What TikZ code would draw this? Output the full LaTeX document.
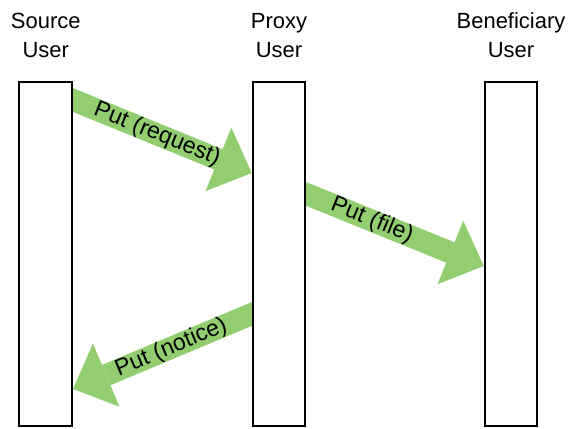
\documentclass[tikz,border=0pt]{standalone}
\usepackage{fontspec}
\setmainfont{Liberation Sans}
\usetikzlibrary{positioning}
\usetikzlibrary{arrows.meta, backgrounds}
\definecolor{putgreen}{RGB}{146,206,112}
\tikzset{
  user/.style={draw=black,fill=white,line width=0.04cm,minimum width=1.05cm,minimum height=6.88cm,inner sep=0},
  who/.style={font=\fontsize{12.5}{16.7}\selectfont,align=center,inner sep=0},
  putarrow/.style={draw=putgreen,line width=0.44cm,-{Triangle[length=0.72cm,width=1.37cm,line width=0pt]},shorten <=-0.2cm},
  putlabel/.style={font=\fontsize{13.2}{15}\selectfont,text=black,sloped,inner sep=0}
}

\begin{document}
\begin{tikzpicture}
\useasboundingbox (0,0) rectangle (11.4,8.56);
\node[user] (src) at (0.915,3.48) {};
\node[user] (prx) at (5.58,3.48) {};
\node[user] (ben) at (10.22,3.48) {};
\node[who,above=0.46cm of src] (srclbl) {Source\\User};
\node[who,above=0.46cm of prx] (prxlbl) {Proxy\\User};
\node[who,above=0.46cm of ben] (benlbl) {Beneficiary\\User};

\begin{pgfonlayer}{background}
\draw[putarrow] ([yshift=-0.38cm]src.north east) -- ([yshift=-1.84cm]prx.north west) node[putlabel,pos=0.47] (req) {Put (request)};
\draw[putarrow] ([yshift=-2.26cm]prx.north east) -- ([yshift=-3.70cm]ben.north west) node[putlabel,pos=0.37] (fil) {Put (file)};
\draw[putarrow] ([yshift=-4.66cm]prx.north west) -- ([yshift=-6.16cm]src.north east) node[putlabel,pos=0.45] (ntc) {Put (notice)};
\end{pgfonlayer}
\end{tikzpicture}
\end{document}
